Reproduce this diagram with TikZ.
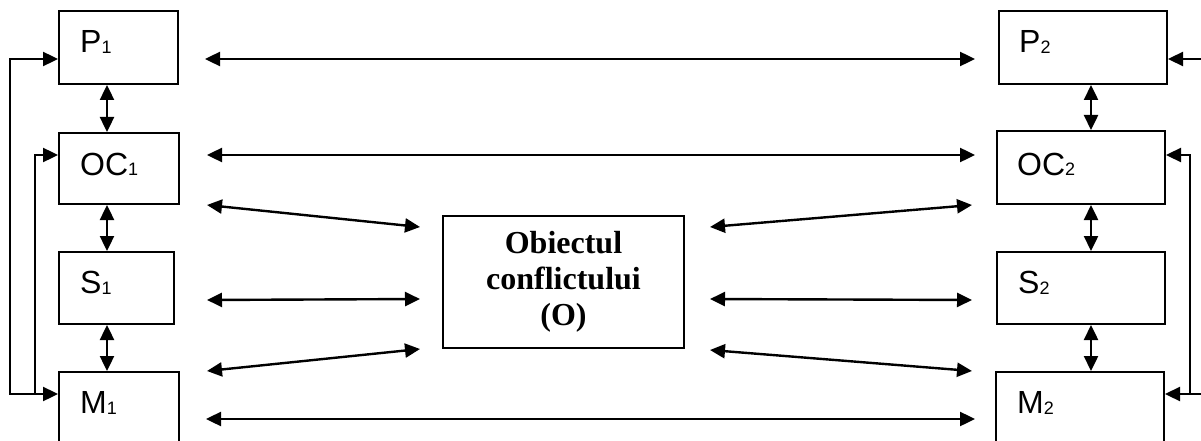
\documentclass[tikz,border=0pt]{standalone}
\usepackage{fontspec}
\setmainfont{Liberation Sans}
\newfontfamily\serifbold{Liberation Serif}[BoldFont={Liberation Serif Bold}]
\usetikzlibrary{arrows.meta,calc}

% label with a small index digit sitting on the baseline
\newcommand{\idx}[2]{#1{\fontsize{18}{18}\selectfont\raisebox{-1pt}{#2}}}

\begin{document}
\begin{tikzpicture}[x=1pt,y=-1pt,
  box/.style={draw,line width=2pt,rectangle,anchor=north west,inner sep=0pt},
  lab/.style={anchor=base west,inner sep=0pt,font=\fontsize{32}{36}\selectfont},
  link/.style={line width=2.4pt,{Triangle[length=15pt,width=14pt]}-{Triangle[length=15pt,width=14pt]}},
  feed/.style={line width=2.4pt,-{Triangle[length=15pt,width=14pt]}}]
\useasboundingbox (0,0) rectangle (1201,441);
\clip (0,0) rectangle (1201,441);
\fill[white] (0,0) rectangle (1201,441);

% left party
\node[box,minimum width=119pt,minimum height=73pt] (P1) at (58,10) {};
\node[box,minimum width=120pt,minimum height=71pt] (OC1) at (58,132) {};
\node[box,minimum width=115pt,minimum height=72pt] (S1) at (58,251) {};
\node[box,minimum width=120pt,minimum height=90pt] (M1) at (58,371) {};
\node[lab] (tP1) at (80,53) {\idx{P}{1}};
\node[lab] (tOC1) at (80,175) {\idx{OC}{1}};
\node[lab] (tS1) at (80,293) {\idx{S}{1}};
\node[lab] (tM1) at (80,413) {\idx{M}{1}};

% right party
\node[box,minimum width=168pt,minimum height=73pt] (P2) at (998,10) {};
\node[box,minimum width=168pt,minimum height=73pt] (OC2) at (996,130) {};
\node[box,minimum width=168pt,minimum height=72pt] (S2) at (996,251) {};
\node[box,minimum width=168pt,minimum height=90pt] (M2) at (995,371) {};
\node[lab] (tP2) at (1019,53) {\idx{P}{2}};
\node[lab] (tOC2) at (1017,175) {\idx{OC}{2}};
\node[lab] (tS2) at (1018,293) {\idx{S}{2}};
\node[lab] (tM2) at (1017,413) {\idx{M}{2}};

% object of the conflict
\node[box,minimum width=241pt,minimum height=132pt] (O) at (442,215) {};
\node[align=center,inner sep=0pt,font=\serifbold\bfseries\fontsize{32}{36}\selectfont]
  (tO) at (O.center) {Obiectul\\conflictului\\(O)};

% links between the two parties
\draw[link] ([shift={(26,49)}]P1.north east) -- ([shift={(-23,49)}]P2.north west);
\draw[link] ([shift={(27,23)}]OC1.north east) -- ([shift={(-21,25)}]OC2.north west);
\draw[link] ([shift={(26,48)}]M1.north east) -- ([shift={(-20,48)}]M2.north west);

% links with the object
\draw[link] ([shift={(27,0)}]OC1.south east) -- ([shift={(-22,12)}]O.north west);
\draw[link] ([shift={(32,-25)}]S1.south east) -- ([shift={(-22,17)}]O.west);
\draw[link] ([shift={(27,0)}]M1.north east) -- ([shift={(-22,0)}]O.south west);
\draw[link] ([shift={(25,12)}]O.north east) -- ([shift={(-24,0)}]OC2.south west);
\draw[link] ([shift={(25,17)}]O.east) -- ([shift={(-24,-25)}]S2.south west);
\draw[link] ([shift={(25,1)}]O.south east) -- ([shift={(-23,0)}]M2.north west);

% vertical links inside each party
\draw[link] ([shift={(49,0)}]P1.south west) -- ([shift={(49,0)}]OC1.north west);
\draw[link] ([shift={(49,0)}]OC1.south west) -- ([shift={(49,0)}]S1.north west);
\draw[link] ([shift={(49,0)}]S1.south west) -- ([shift={(49,0)}]M1.north west);
\draw[link] ([shift={(93,0)}]P2.south west) -- ([shift={(95,0)}]OC2.north west);
\draw[link] ([shift={(95,0)}]OC2.south west) -- ([shift={(95,0)}]S2.north west);
\draw[link] ([shift={(95,0)}]S2.south west) -- ([shift={(96,0)}]M2.north west);

% feedback loops, left
\draw[link,line join=miter] ([shift={(0,49)}]P1.north west) -| ([shift={(-48,23)}]M1.north west) -- ([shift={(0,23)}]M1.north west);
\draw[feed,line join=miter] ([shift={(-23,23)}]M1.north west) |- ([shift={(0,23)}]OC1.north west);

% feedback loops, right
\coordinate (rP) at (1212,59);
\coordinate (rM) at (1212,394);
\draw[feed] (rP) -- ([shift={(0,49)}]P2.north east);
\draw[feed] (rM) -- ([shift={(0,23)}]M2.north east);
\draw[feed,line join=miter] ([shift={(25,23)}]M2.north east) |- ([shift={(0,25)}]OC2.north east);
\end{tikzpicture}
\end{document}
